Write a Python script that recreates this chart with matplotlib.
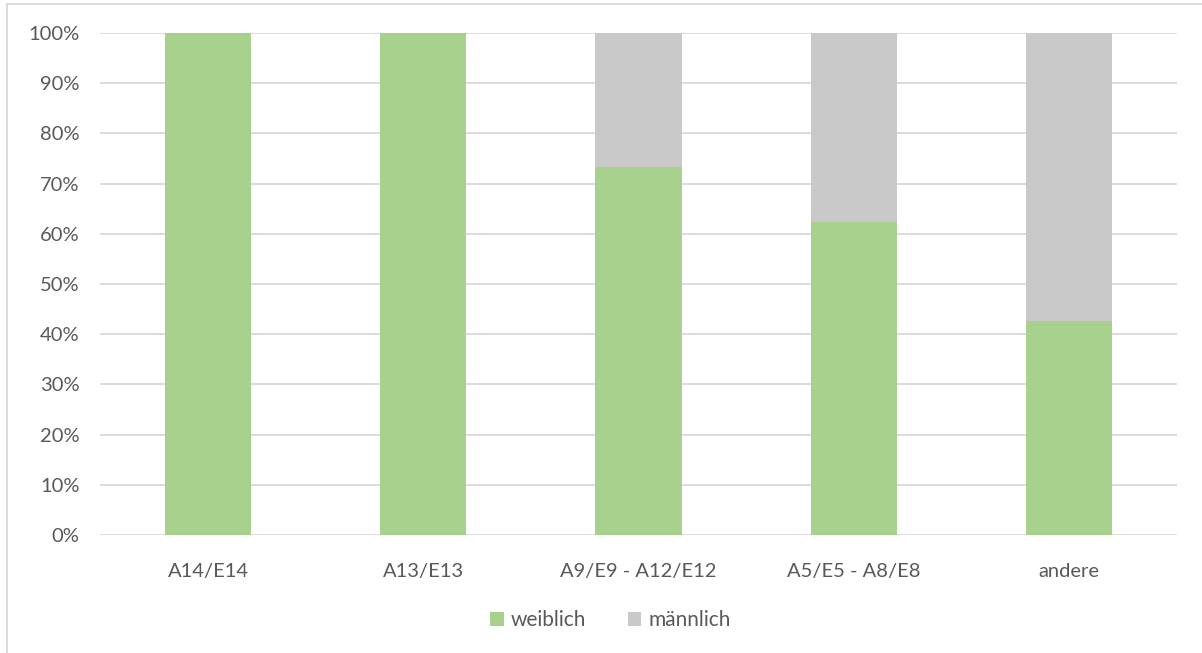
import numpy as np
import matplotlib.pyplot as plt
from matplotlib.patches import Rectangle
from matplotlib.ticker import PercentFormatter

categories = ["A14/E14", "A13/E13", "A9/E9 - A12/E12", "A5/E5 - A8/E8", "andere"]
weiblich = [100.0, 100.0, 73.4, 62.4, 42.7]
maennlich = [100 - v for v in weiblich]

green = "#A9D18E"
grey = "#C9C9C9"
txt = "#595959"

plt.rcParams['font.family'] = ['Lato', 'DejaVu Sans']

fig = plt.figure(figsize=(12.02, 6.53), dpi=100)
ax = fig.add_axes([0.0836, 0.1807, 0.8952, 0.7688])

x = np.arange(len(categories))
ax.bar(x, weiblich, width=0.4, color=green, label="weiblich", zorder=2)
ax.bar(x, maennlich, width=0.4, bottom=weiblich, color=grey, label="männlich", zorder=2)

ax.set_xlim(-0.5, len(categories) - 0.5)
ax.set_ylim(0, 100)
ax.set_yticks(np.arange(0, 101, 10))
ax.yaxis.set_major_formatter(PercentFormatter(decimals=0))
ax.set_xticks(x)
ax.set_xticklabels(categories)
ax.grid(axis='y', color="#D9D9D9", linewidth=1.3, zorder=0)
for s in ax.spines.values():
    s.set_visible(False)
ax.tick_params(length=0, labelsize=14.5, labelcolor=txt)
ax.tick_params(axis='y', pad=15)
ax.tick_params(axis='x', pad=20)

leg = fig.legend(loc='center', bbox_to_anchor=(0.508, 0.05), ncol=2, frameon=False,
                 fontsize=15, handlelength=0.65, handleheight=0.65, columnspacing=2.0,
                 handletextpad=0.35)
for t in leg.get_texts():
    t.set_color(txt)

# chart border (right/bottom cut off)
fig.patches.append(Rectangle((7 / 1202, -0.1), 1.2, 1 - 4.5 / 653 + 0.1,
                             transform=fig.transFigure, fill=False,
                             edgecolor="#D9D9D9", linewidth=1.3))

fig.savefig("out.png", dpi=100)
